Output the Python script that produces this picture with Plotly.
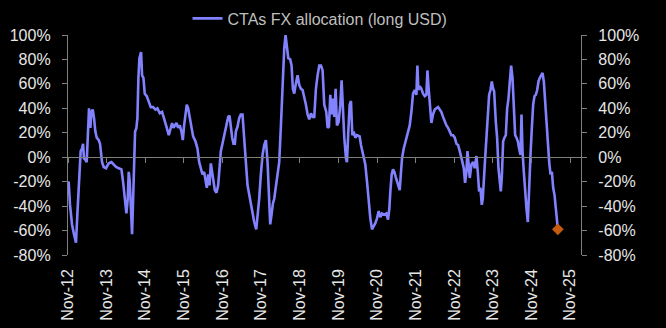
import pandas as pd
import plotly.graph_objects as go

# decimal-year time stamps and CTA FX allocation (% long USD)
t = [2012.833, 2012.850, 2012.885, 2012.937, 2012.988, 2013.040, 2013.075, 2013.109, 2013.144, 2013.161,
     2013.196, 2013.222, 2013.247, 2013.282, 2013.317, 2013.351, 2013.377, 2013.412, 2013.438, 2013.472,
     2013.507, 2013.541, 2013.576, 2013.628, 2013.662, 2013.714, 2013.757, 2013.817, 2013.887, 2013.956,
     2014.016, 2014.077, 2014.146, 2014.215, 2014.258, 2014.301, 2014.344, 2014.379, 2014.405, 2014.431,
     2014.457, 2014.491, 2014.517, 2014.543, 2014.569, 2014.603, 2014.629, 2014.655, 2014.681, 2014.724,
     2014.750, 2014.785, 2014.819, 2014.871, 2014.923,
     2014.975, 2015.035, 2015.096, 2015.147, 2015.208, 2015.268, 2015.320, 2015.381, 2015.441, 2015.493,
     2015.527, 2015.562, 2015.596, 2015.640, 2015.683, 2015.726, 2015.769, 2015.804, 2015.838, 2015.873,
     2015.907, 2015.942, 2015.985, 2016.028, 2016.071, 2016.132, 2016.184, 2016.227, 2016.270, 2016.313,
     2016.356, 2016.391, 2016.425, 2016.460, 2016.495, 2016.529, 2016.564, 2016.598, 2016.633, 2016.676,
     2016.719, 2016.754, 2016.788, 2016.823, 2016.875, 2016.909, 2016.944, 2016.978, 2017.013, 2017.047,
     2017.082, 2017.116, 2017.151,
     2017.177, 2017.220, 2017.263, 2017.306, 2017.349, 2017.393, 2017.436, 2017.479, 2017.522, 2017.565,
     2017.609, 2017.652, 2017.704, 2017.738, 2017.781, 2017.824, 2017.868, 2017.911, 2017.954, 2017.997,
     2018.032, 2018.066, 2018.101, 2018.135, 2018.170, 2018.213, 2018.256, 2018.299, 2018.343, 2018.386,
     2018.429, 2018.463, 2018.498, 2018.533, 2018.584, 2018.619, 2018.653, 2018.688, 2018.723, 2018.774,
     2018.818, 2018.861, 2018.904, 2018.947, 2018.990, 2019.033, 2019.077, 2019.120, 2019.163, 2019.206,
     2019.249, 2019.292, 2019.336, 2019.379, 2019.422,
     2019.465, 2019.517, 2019.552, 2019.586, 2019.621, 2019.655, 2019.690, 2019.724, 2019.759, 2019.793,
     2019.837, 2019.880, 2019.914, 2019.949, 2019.983, 2020.027, 2020.052, 2020.087, 2020.122, 2020.156,
     2020.191, 2020.225, 2020.268, 2020.312, 2020.381, 2020.415, 2020.467, 2020.527, 2020.571, 2020.614,
     2020.657, 2020.700, 2020.743, 2020.786, 2020.830, 2020.873, 2020.916, 2020.959, 2021.020, 2021.071,
     2021.115, 2021.149, 2021.175, 2021.210, 2021.244, 2021.279, 2021.313, 2021.348, 2021.382, 2021.417,
     2021.451, 2021.477, 2021.520, 2021.564,
     2021.633, 2021.676, 2021.719, 2021.762, 2021.805, 2021.849, 2021.875, 2021.900, 2021.935, 2021.978,
     2022.021, 2022.065, 2022.108, 2022.134, 2022.159, 2022.194, 2022.237, 2022.280, 2022.324, 2022.367,
     2022.410, 2022.453, 2022.496, 2022.539, 2022.583, 2022.626, 2022.669, 2022.712, 2022.755, 2022.799,
     2022.842, 2022.885, 2022.928, 2022.971, 2023.006, 2023.040, 2023.075, 2023.109, 2023.144, 2023.170,
     2023.196, 2023.230, 2023.273, 2023.317, 2023.360, 2023.403, 2023.438, 2023.472, 2023.507, 2023.541,
     2023.567, 2023.593, 2023.628, 2023.662, 2023.697, 2023.731, 2023.766, 2023.800,
     2023.835, 2023.861, 2023.904, 2023.938, 2023.973, 2024.008, 2024.033, 2024.059, 2024.094, 2024.128,
     2024.163, 2024.198, 2024.232, 2024.267, 2024.301, 2024.336, 2024.370, 2024.405, 2024.439, 2024.474,
     2024.508, 2024.543, 2024.569, 2024.595, 2024.629, 2024.664, 2024.698, 2024.733, 2024.767, 2024.802,
     2024.837, 2024.871, 2024.906, 2024.940, 2024.975, 2025.009, 2025.044, 2025.078, 2025.113, 2025.147,
     2025.182, 2025.216, 2025.251, 2025.286, 2025.320, 2025.355, 2025.389, 2025.424, 2025.458, 2025.510]

alloc = [-21, -20, -39, -55, -63, -70, -47, -23, -4, 5,
         7, 11, -1, -2, -4, 24, 40, 24, 37, 39,
         32, 21, 16, 14, 11, -4, -8, -9, -5, -4,
         -6, -8, -9, -10, -20, -36, -46, -34, -12, -20,
         -47, -63, -36, -9, 21, 24, 32, 65, 81, 86,
         67, 65, 52, 50, 45,
         41, 41, 39, 40, 36, 37, 32, 25, 18, 24,
         28, 24, 26, 28, 24, 26, 21, 14, 26, 36,
         43, 40, 33, 24, 17, 13, 7, -4, -10, -14,
         -12, -20, -25, -14, -23, -5, -14, -23, -27, -29,
         -23, -9, 5, 10, 18, 24, 29, 33, 34, 24,
         16, 11, 11,
         21, 25, 32, 35, 35, 18, -4, -23, -31, -39,
         -47, -53, -59, -50, -34, -14, 2, 10, 14, -4,
         -25, -55, -47, -38, -34, -25, -14, -4, 26, 65,
         89, 100, 89, 81, 80, 75, 56, 52, 59, 67,
         59, 56, 55, 50, 43, 35, 31, 36, 33, 33,
         56, 67, 75, 75, 71,
         43, 37, 24, 25, 51, 35, 48, 33, 56, 26,
         29, 43, 63, 35, 16, -1, -4, 21, 43, 46,
         18, 21, 16, 18, 17, 10, 2, -6, -20, -36,
         -50, -59, -57, -54, -50, -44, -49, -46, -47, -46,
         -51, -42, -28, -14, -10, -12, -16, -20, -23, -27,
         -12, -1, 7, 13,
         21, 26, 37, 52, 55, 51, 75, 55, 58, 56,
         52, 50, 51, 71, 59, 46, 28, 35, 39, 40,
         41, 39, 37, 33, 29, 26, 24, 21, 18, 18,
         16, 11, 10, 5, -1, -4, -9, -21, -12, 5,
         -4, -17, -6, -4, -9, 1, -12, -28, -25, -39,
         -34, -14, -1, 16, 35, 51, 55, 62,
         56, 54, 29, 16, -9, -25, -28, -17, 13, 16,
         18, 40, 48, 62, 75, 65, 37, 18, 16, 13,
         7, 2, 35, 5, -12, -31, -42, -53, -17, 2,
         24, 43, 50, 51, 55, 62, 65, 67, 69, 62,
         43, 29, 13, -4, -14, -12, -25, -31, -42, -59]

x_ticks = ["2012-11-01", "2013-11-01", "2014-11-01", "2015-11-01", "2016-11-01", "2017-11-01",
           "2018-11-01", "2019-11-01", "2020-11-01", "2021-11-01", "2022-11-01", "2023-11-01",
           "2024-11-01", "2025-11-01"]
x_labels = ["Nov-12", "Nov-13", "Nov-14", "Nov-15", "Nov-16", "Nov-17", "Nov-18", "Nov-19",
            "Nov-20", "Nov-21", "Nov-22", "Nov-23", "Nov-24", "Nov-25"]
y_ticks = [-80, -60, -40, -20, 0, 20, 40, 60, 80, 100]
y_labels = ["-80%", "-60%", "-40%", "-20%", "0%", "20%", "40%", "60%", "80%", "100%"]

origin = pd.Timestamp("2012-11-01")
dates = [origin + pd.Timedelta(days=(v - 2012.833) * 365.25) for v in t]

X_RANGE = ["2012-11-01", "2026-02-10"]
Y_RANGE = [-80, 100]

LINE = "#8282ff"
TICKC = "#e6e6e6"
AXC = "#7f7f7f"
FONT = "Liberation Sans, Arial, sans-serif"

fig = go.Figure()
fig.add_trace(go.Scatter(x=dates, y=alloc, mode="lines", name="CTAs FX allocation (long USD)",
                         line=dict(color=LINE, width=2.6), hoverinfo="skip"))
fig.add_trace(go.Scatter(x=[dates[-1]], y=[alloc[-1]], mode="markers", showlegend=False,
                         marker=dict(symbol="diamond", size=9, color="#c55a11"),
                         xaxis="x2", yaxis="y2", hoverinfo="skip"))

dom = [0, 1]
zero_pos = dom[0] + (0 - Y_RANGE[0]) / (Y_RANGE[1] - Y_RANGE[0]) * (dom[1] - dom[0])

yax = dict(range=Y_RANGE, tickmode="array", tickvals=y_ticks, ticktext=y_labels,
           showgrid=False, zeroline=False,
           showline=True, linecolor=AXC, linewidth=1.3, ticks="outside", ticklen=5, tickcolor=AXC,
           tickwidth=1.3, tickfont=dict(color=TICKC, size=16, family=FONT), ticklabelstandoff=8)

fig.update_layout(
    width=666, height=328,
    margin=dict(l=68, r=85, t=35, b=73, autoexpand=False),
    paper_bgcolor="black", plot_bgcolor="black",
    font=dict(family=FONT, color=TICKC, size=16),
    showlegend=True,
    legend=dict(orientation="h", x=0.233, xanchor="left", y=1.075, yanchor="middle",
                font=dict(color="#bfbfbf", size=16, family=FONT), bgcolor="rgba(0,0,0,0)",
                itemwidth=30, tracegroupgap=0),
    xaxis=dict(type="date", range=X_RANGE, tickmode="array", tickvals=x_ticks, ticktext=x_labels,
               tickangle=-90, showgrid=False, zeroline=False, showline=False, ticks="",
               tickfont=dict(color=TICKC, size=16, family=FONT), ticklabelstandoff=10),
    xaxis2=dict(type="date", range=X_RANGE, overlaying="x", anchor="free", position=zero_pos,
                tickvals=x_ticks, showticklabels=False, showgrid=False, zeroline=False,
                showline=True, linecolor=AXC, linewidth=1.3, ticks="outside", ticklen=5,
                tickcolor=AXC, tickwidth=1.3),
    yaxis=dict(**yax, side="left"),
    yaxis2=dict(**yax, side="right", overlaying="y", anchor="x"),
)

fig.write_html("out.html")
